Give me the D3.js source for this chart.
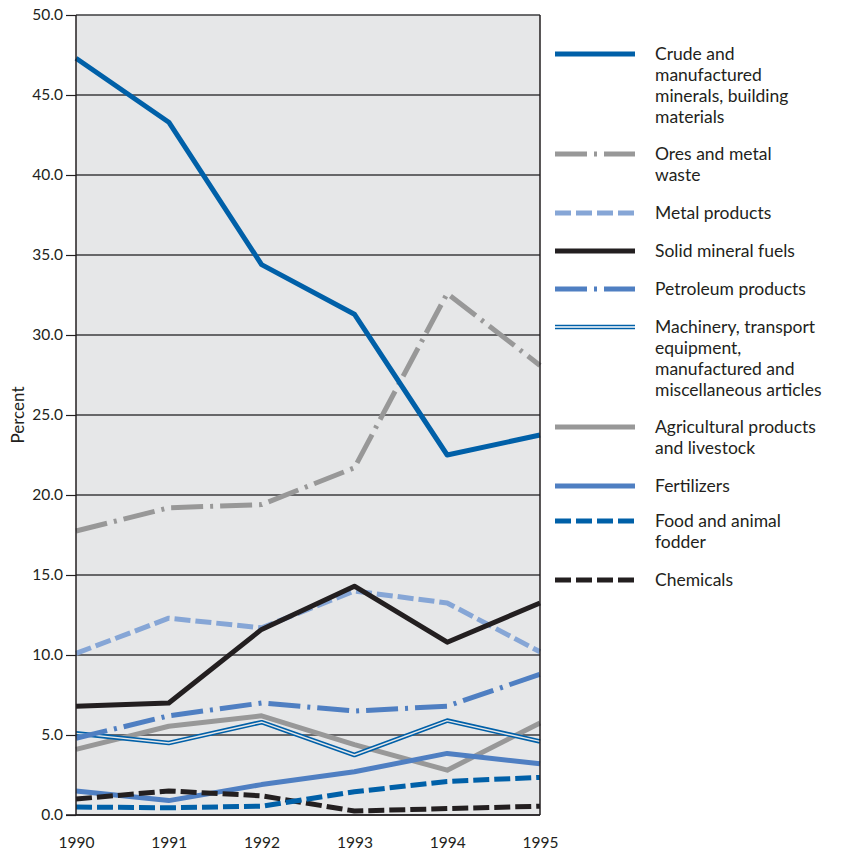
<!DOCTYPE html>
<html><head><meta charset="utf-8">
<script src="https://cdn.jsdelivr.net/npm/d3@7"></script>
<style>body{margin:0;background:#fff}svg{display:block}text{font-family:Lato,"Open Sans",sans-serif;fill:#231f20}</style>
</head><body><svg id="c" width="843" height="856"></svg>
<script>
const years = [1990, 1991, 1992, 1993, 1994, 1995];
const yTicks = [0, 5, 10, 15, 20, 25, 30, 35, 40, 45, 50];
const crude = [47.3, 43.3, 34.4, 31.3, 22.5, 23.75];
const ores = [17.75, 19.2, 19.4, 21.7, 32.6, 28.1];
const metal = [10.1, 12.3, 11.7, 14.0, 13.25, 10.2];
const solid = [6.8, 7.0, 11.6, 14.3, 10.8, 13.25];
const petroleum = [4.8, 6.2, 7.0, 6.5, 6.8, 8.8];
const machinery = [5.1, 4.5, 5.8, 3.75, 5.9, 4.6];
const agricultural = [4.1, 5.55, 6.2, 4.4, 2.8, 5.75];
const fertilizers = [1.5, 0.9, 1.9, 2.7, 3.85, 3.2];
const food = [0.5, 0.45, 0.55, 1.45, 2.1, 2.35];
const chemicals = [1.0, 1.5, 1.2, 0.25, 0.4, 0.55];

const series = [
  {name:["Crude and","manufactured","minerals, building","materials"], values:crude, color:"#0060a8", dash:null},
  {name:["Ores and metal","waste"], values:ores, color:"#989898", dash:"32,7,3,7"},
  {name:["Metal products"], values:metal, color:"#86a6d6", dash:"16,5"},
  {name:["Solid mineral fuels"], values:solid, color:"#231f20", dash:null},
  {name:["Petroleum products"], values:petroleum, color:"#4f7fc2", dash:"32,7,3,7"},
  {name:["Machinery, transport","equipment,","manufactured and","miscellaneous articles"], values:machinery, color:"#0060a8", dash:null, dbl:true},
  {name:["Agricultural products","and livestock"], values:agricultural, color:"#989898", dash:null},
  {name:["Fertilizers"], values:fertilizers, color:"#4f7fc2", dash:null},
  {name:["Food and animal","fodder"], values:food, color:"#0060a8", dash:"16,5"},
  {name:["Chemicals"], values:chemicals, color:"#231f20", dash:"16,5"}
];
const drawOrder = [6,5,4,7,9,8,2,3,1,0];

const svg = d3.select("#c");
const L = 76, R = 540, T = 15, B = 815;
const x = d3.scaleLinear().domain([1990,1995]).range([L,R]);
const y = d3.scaleLinear().domain([0,50]).range([B,T]);

svg.append("rect").attr("x",L).attr("y",T).attr("width",R-L).attr("height",B-T).attr("fill","#e6e7e8");

const yAxis = svg.append("g").attr("transform",`translate(${L},0)`)
  .call(d3.axisLeft(y).tickValues(yTicks).tickFormat(d3.format(".1f")).tickSize(10).tickPadding(3));
yAxis.select(".domain").remove();
yAxis.selectAll(".tick line").attr("stroke","#231f20").attr("stroke-width",1.2);
yAxis.selectAll(".tick text").style("font-size","15.5px").attr("fill","#231f20");
svg.append("g").selectAll("line").data(yTicks).join("line")
  .attr("x1",L).attr("x2",R).attr("y1",d=>y(d)).attr("y2",d=>y(d))
  .attr("stroke","#3d3d3f").attr("stroke-width",1.3);

const xAxis = svg.append("g").attr("transform",`translate(0,${B})`)
  .call(d3.axisBottom(x).tickValues(years).tickFormat(d3.format("d")).tickSize(0).tickPadding(22));
xAxis.select(".domain").remove();
xAxis.selectAll(".tick text").style("font-size","15.5px").attr("fill","#231f20");

const line = d3.line().x((d,i)=>x(years[i])).y(d=>y(d));
const plot = svg.append("g");
drawOrder.forEach(k=>{
  const s = series[k];
  const p = plot.append("path").attr("d",line(s.values)).attr("fill","none")
    .attr("stroke",s.color).attr("stroke-width",s.dbl?4.6:5).attr("stroke-linejoin","round");
  if(s.dash) p.attr("stroke-dasharray",s.dash);
  if(s.dbl) plot.append("path").attr("d",line(s.values)).attr("fill","none")
    .attr("stroke","#e6e7e8").attr("stroke-width",1.4).attr("stroke-linejoin","round");
});

svg.append("line").attr("x1",L).attr("x2",L).attr("y1",T).attr("y2",B).attr("stroke","#231f20").attr("stroke-width",1.5);
svg.append("line").attr("x1",R).attr("x2",R).attr("y1",T).attr("y2",B).attr("stroke","#231f20").attr("stroke-width",1.5);
svg.append("line").attr("x1",L-10).attr("x2",R).attr("y1",B).attr("y2",B).attr("stroke","#231f20").attr("stroke-width",1.5);

svg.append("text").attr("transform","translate(24,415) rotate(-90)").attr("text-anchor","middle")
  .style("font-size","17px").text("Percent");

const legY = [54,154,213,251,289,327,427,486,521,580];
const lg = svg.append("g");
series.forEach((s,i)=>{
  const yy = legY[i];
  const p = lg.append("line").attr("x1",555).attr("x2",635).attr("y1",yy).attr("y2",yy)
    .attr("stroke",s.color).attr("stroke-width",s.dbl?4.6:5);
  if(s.dash) p.attr("stroke-dasharray",s.dash);
  if(s.dbl) lg.append("line").attr("x1",555).attr("x2",635).attr("y1",yy).attr("y2",yy)
    .attr("stroke","#fff").attr("stroke-width",1.4);
  const t = lg.append("text").attr("x",655).attr("y",yy+6).style("font-size","17.5px");
  s.name.forEach((ln,j)=>t.append("tspan").attr("x",655).attr("dy",j?21:0).text(ln));
});
</script></body></html>
